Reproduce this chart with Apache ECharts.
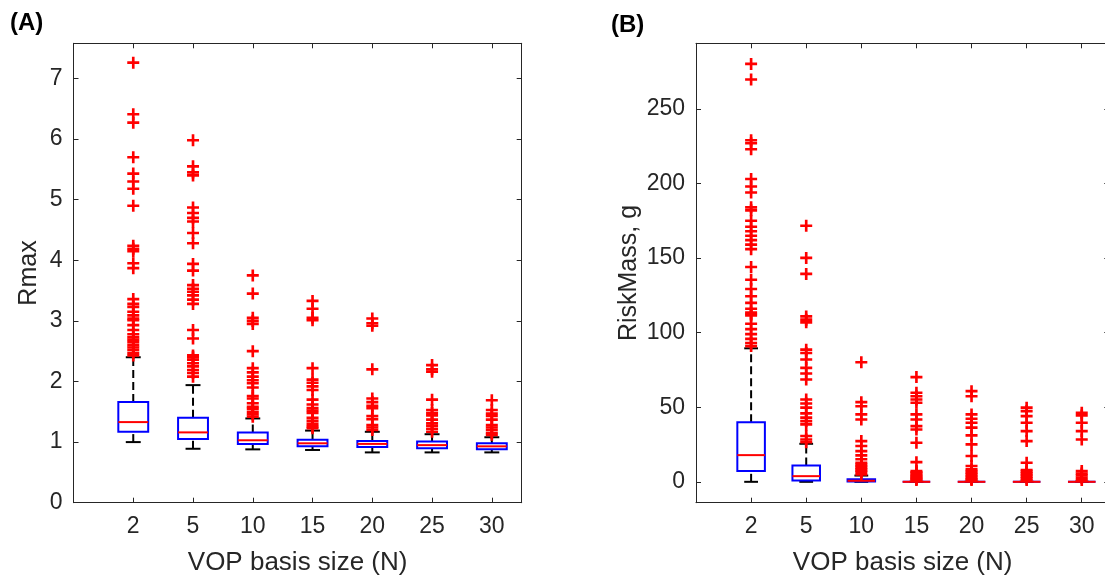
<!DOCTYPE html>
<html>
<head>
<meta charset="utf-8">
<script src="https://cdn.jsdelivr.net/npm/echarts@6/dist/echarts.min.js"></script>
<style>
  html, body { margin: 0; padding: 0; background: #fff; }
  #chart { width: 1105px; height: 578px; }
</style>
</head>
<body>
<div id="chart"></div>
<script>
// VOP basis sizes (categories at x = 1..7)
var categories = ['2', '5', '10', '15', '20', '25', '30'];

// (A) Rmax box statistics
var rmaxWhiskerLow  = [1.00, 0.89, 0.88, 0.87, 0.83, 0.83, 0.83];
var rmaxQ1          = [1.17, 1.05, 0.97, 0.93, 0.92, 0.90, 0.88];
var rmaxMedian      = [1.33, 1.16, 1.03, 0.98, 0.97, 0.95, 0.93];
var rmaxQ3          = [1.66, 1.40, 1.16, 1.04, 1.02, 1.01, 0.98];
var rmaxWhiskerHigh = [2.40, 1.94, 1.39, 1.19, 1.17, 1.13, 1.08];
var rmaxOutliers = [
  [7.26, 6.41, 6.27, 5.70, 5.43, 5.30, 5.18, 4.90, 4.24, 4.19, 4.15, 3.95, 3.87, 3.36, 3.28, 3.23, 3.15, 3.09, 3.04, 3.01, 2.93, 2.85, 2.78, 2.73, 2.69, 2.65, 2.60, 2.56, 2.52, 2.47, 2.43],
  [5.98, 5.55, 5.45, 5.40, 4.87, 4.78, 4.70, 4.64, 4.45, 4.28, 3.94, 3.83, 3.59, 3.53, 3.48, 3.42, 3.35, 3.28, 2.85, 2.71, 2.43, 2.40, 2.36, 2.30, 2.25, 2.19, 2.14, 2.08],
  [3.75, 3.45, 3.05, 3.00, 2.95, 2.50, 2.22, 2.15, 2.08, 2.02, 1.97, 1.90, 1.76, 1.72, 1.64, 1.58, 1.55, 1.50, 1.46, 1.42],
  [3.33, 3.20, 3.05, 3.01, 2.22, 2.03, 1.98, 1.92, 1.86, 1.70, 1.62, 1.56, 1.52, 1.48, 1.40, 1.35, 1.30, 1.26, 1.23],
  [3.04, 2.96, 2.92, 2.20, 1.72, 1.66, 1.60, 1.56, 1.43, 1.38, 1.28, 1.24, 1.20],
  [2.27, 2.20, 2.16, 1.70, 1.53, 1.48, 1.44, 1.37, 1.31, 1.27, 1.22, 1.17],
  [1.69, 1.53, 1.47, 1.43, 1.37, 1.28, 1.24, 1.20, 1.15, 1.12]
];
var rmaxTicks = [0, 1, 2, 3, 4, 5, 6, 7];

// (B) RiskMass box statistics
var massWhiskerLow  = [0, 0, 0, 0, 0, 0, 0];
var massQ1          = [7.2, 0.8, 0.2, 0, 0, 0, 0];
var massMedian      = [17.9, 3.8, 0.7, 0, 0, 0, 0];
var massQ3          = [40.0, 11.0, 1.8, 0, 0, 0, 0];
var massWhiskerHigh = [89.5, 25.5, 4.2, 0, 0, 0, 0];
var massOutliers = [
  [280.2, 269.7, 229, 227, 223, 203, 198, 194, 184, 182, 175, 171, 168, 165, 162, 159, 156, 144, 135.5, 129.3, 124.4, 120, 116, 113.5, 112.5, 111.5, 106, 102.4, 99, 95.8, 93.1, 91],
  [171.7, 150.1, 139.4, 110.9, 108.7, 106.9, 88.6, 86.4, 82, 76.4, 72.6, 68.6, 55.2, 52.5, 49.7, 45.9, 43, 40.7, 38.5, 30.7, 28.4, 26.6],
  [80.2, 53.4, 50.7, 45.2, 41.8, 27.3, 24, 20.6, 17.7, 15.1, 12.8, 11.6, 10.6, 9.5, 8.4, 7.4, 6.6, 5],
  [70.2, 59.7, 57.4, 55.2, 53, 45.2, 41.8, 37.3, 35.1, 26.2, 13.2, 7.2, 6.4, 5.7, 4.6, 3.9, 3.1, 2.4, 1.8, 1.2],
  [60.8, 57.4, 45.2, 42.3, 39.6, 36.3, 31.1, 25.1, 17.3, 10.6, 8.3, 7.2, 6.1, 5, 3.9, 2.8, 1.9, 1.2],
  [49.7, 47.4, 44, 39.6, 34, 27.3, 12.8, 7.9, 6.8, 5.7, 4.6, 3.5, 2.3, 1.2],
  [46.3, 44.5, 39.6, 34, 28.4, 7.2, 5.6, 4.3, 2.6, 1.2]
];
var massTicks = [0, 50, 100, 150, 200, 250];

var positions = [1, 2, 3, 4, 5, 6, 7];
var FONT = '"Liberation Sans", Arial, Helvetica, sans-serif';
var INK = '#262626';
var PLUS = 'path://M3.9,0H6.1V3.9H10V6.1H6.1V10H3.9V6.1H0V3.9H3.9Z';

function boxRows(lo, q1, med, q3, hi) {
  return positions.map(function (p, i) {
    return [p, lo[i], q1[i], med[i], q3[i], hi[i]];
  });
}

function outlierRows(list) {
  var rows = [];
  list.forEach(function (vals, i) {
    vals.forEach(function (v) { rows.push([positions[i], v]); });
  });
  return rows;
}

function renderBox(params, api) {
  var x = api.value(0);
  var lo = api.coord([x, api.value(1)]);
  var q1 = api.coord([x, api.value(2)]);
  var md = api.coord([x, api.value(3)]);
  var q3 = api.coord([x, api.value(4)]);
  var hi = api.coord([x, api.value(5)]);
  var hb = api.size([0.25, 0])[0];
  var hc = api.size([0.125, 0])[0];
  var cx = lo[0];
  var dash = { stroke: '#000', lineWidth: 2, lineDash: [8, 4] };
  var solid = { stroke: '#000', lineWidth: 2 };
  return {
    type: 'group',
    children: [
      { type: 'line', shape: { x1: cx, y1: q3[1], x2: cx, y2: hi[1] }, style: dash },
      { type: 'line', shape: { x1: cx, y1: lo[1], x2: cx, y2: q1[1] }, style: dash },
      { type: 'line', shape: { x1: cx - hc, y1: hi[1], x2: cx + hc, y2: hi[1] }, style: solid },
      { type: 'line', shape: { x1: cx - hc, y1: lo[1], x2: cx + hc, y2: lo[1] }, style: solid },
      { type: 'rect', shape: { x: cx - hb, y: q3[1], width: hb * 2, height: q1[1] - q3[1] },
        style: { fill: 'none', stroke: '#0000ff', lineWidth: 2 } },
      { type: 'line', shape: { x1: cx - hb, y1: md[1], x2: cx + hb, y2: md[1] },
        style: { stroke: '#ff0000', lineWidth: 2 } }
    ]
  };
}

function xAxes(gridIndex) {
  var base = {
    gridIndex: gridIndex, type: 'value', min: 0, max: 7.5,
    axisLine: { show: true, onZero: false, lineStyle: { color: INK, width: 1 } },
    axisTick: { show: true, inside: true, length: 5, customValues: positions, lineStyle: { color: INK } },
    splitLine: { show: false }
  };
  var bottom = Object.assign({}, base, {
    position: 'bottom',
    axisLabel: {
      customValues: positions, margin: 12, fontSize: 23, color: INK, fontFamily: FONT,
      formatter: function (v) { return categories[Math.round(v) - 1] || ''; }
    },
    name: 'VOP basis size (N)', nameLocation: 'middle', nameGap: 47,
    nameTextStyle: { fontSize: 26, color: INK, fontFamily: FONT }
  });
  var top = Object.assign({}, base, { position: 'top', axisLabel: { show: false } });
  return [bottom, top];
}

function yAxes(gridIndex, min, max, ticks, name, gap) {
  var base = {
    gridIndex: gridIndex, type: 'value', min: min, max: max,
    axisLine: { show: true, onZero: false, lineStyle: { color: INK, width: 1 } },
    axisTick: { show: true, inside: true, length: 5, customValues: ticks, lineStyle: { color: INK } },
    splitLine: { show: false }
  };
  var left = Object.assign({}, base, {
    position: 'left',
    axisLabel: { customValues: ticks, margin: 11, fontSize: 23, color: INK, fontFamily: FONT },
    name: name, nameLocation: 'middle', nameGap: gap,
    nameTextStyle: { fontSize: 25, color: INK, fontFamily: FONT }
  });
  var right = Object.assign({}, base, { position: 'right', axisLabel: { show: false } });
  return [left, right];
}

var myChart = echarts.init(document.getElementById('chart'));

var option = {
  animation: false,
  backgroundColor: '#fff',
  grid: [
    { left: 73.5, top: 43.3, width: 448.2, height: 459.4, containLabel: false, outerBoundsMode: 'none' },
    { left: 696, top: 43.3, width: 413.3, height: 459.4, containLabel: false, outerBoundsMode: 'none' }
  ],
  xAxis: xAxes(0).concat(xAxes(1)),
  yAxis: yAxes(0, 0, 7.58, rmaxTicks, 'Rmax', 32).concat(yAxes(1, -14, 294, massTicks, 'RiskMass, g', 54)),
  graphic: [
    { type: 'text', left: 10, top: 11, style: { text: '(A)', font: 'bold 24px ' + FONT, fill: '#000' } },
    { type: 'text', left: 611, top: 13, style: { text: '(B)', font: 'bold 24px ' + FONT, fill: '#000' } }
  ],
  series: [
    {
      type: 'custom', xAxisIndex: 0, yAxisIndex: 0,
      renderItem: renderBox,
      encode: { x: 0, y: [1, 2, 3, 4, 5] },
      data: boxRows(rmaxWhiskerLow, rmaxQ1, rmaxMedian, rmaxQ3, rmaxWhiskerHigh),
      z: 2
    },
    {
      type: 'scatter', xAxisIndex: 0, yAxisIndex: 0,
      symbol: PLUS, symbolSize: 12,
      itemStyle: { color: '#ff0000', opacity: 1 },
      data: outlierRows(rmaxOutliers),
      z: 3
    },
    {
      type: 'custom', xAxisIndex: 2, yAxisIndex: 2,
      renderItem: renderBox,
      encode: { x: 0, y: [1, 2, 3, 4, 5] },
      data: boxRows(massWhiskerLow, massQ1, massMedian, massQ3, massWhiskerHigh),
      z: 2
    },
    {
      type: 'scatter', xAxisIndex: 2, yAxisIndex: 2,
      symbol: PLUS, symbolSize: 12,
      itemStyle: { color: '#ff0000', opacity: 1 },
      data: outlierRows(massOutliers),
      z: 3
    }
  ]
};

myChart.setOption(option);
</script>
</body>
</html>
